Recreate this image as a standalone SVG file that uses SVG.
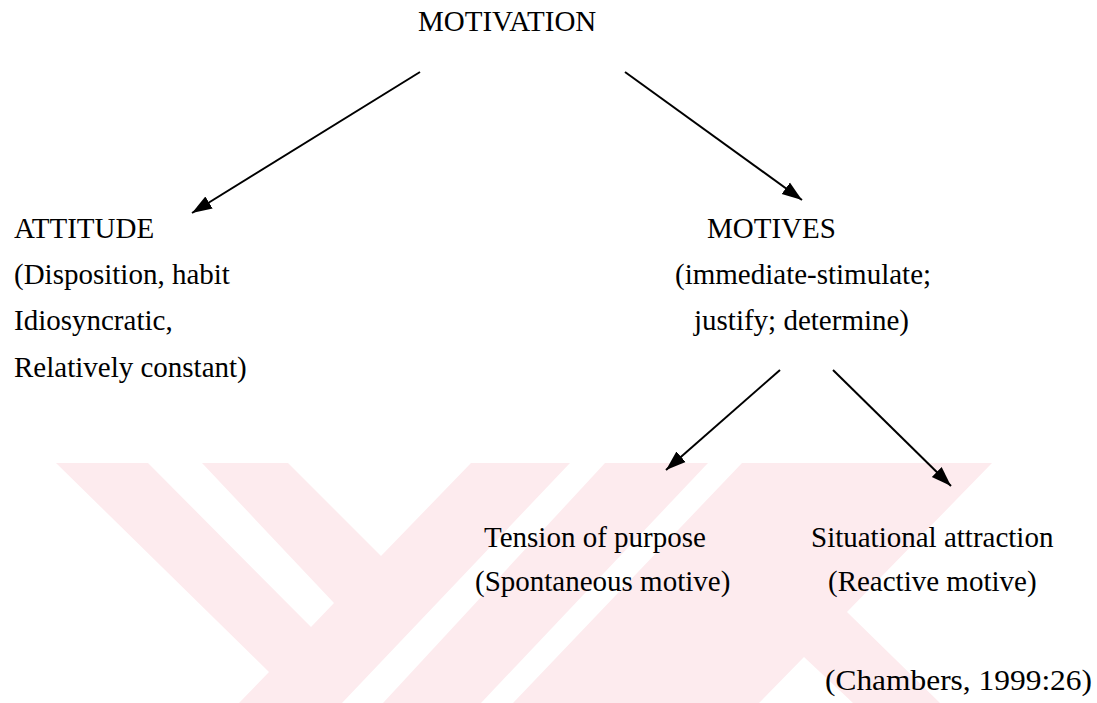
<svg xmlns="http://www.w3.org/2000/svg" width="1097" height="703" viewBox="0 0 1097 703">
<style>
  text { font-family: "Liberation Serif", "Times New Roman", serif; font-size: 29px; fill: #000; }
  .wm { fill: #fdebee; stroke: none; }
  .edge { stroke: #000; stroke-width: 2; fill: none; marker-end: url(#arrow); }
</style>
<defs>
  <marker id="arrow" markerUnits="userSpaceOnUse" markerWidth="22" markerHeight="16" viewBox="0 0 22 16" refX="20" refY="8" orient="auto">
    <path d="M0,1 L20,8 L0,15 Z" fill="#000"/>
  </marker>
</defs>
<rect width="1097" height="703" fill="#fff"/>
<g id="watermark">
  <polygon class="wm" points="56,463 148,463 311,627 334,603 202,463 288,463 381,556 471,463 570,463 342,703 239,703 269,672"/>
  <polygon class="wm" points="605,463 708,463 481,703 383,703"/>
  <polygon class="wm" points="742,463 992,463 847,612 940,703 853,703 804,657 759,703 513,703"/>
</g>
<g id="connectors">
  <path class="edge" d="M420,72 L192,213"/>
  <path class="edge" d="M625,72 L802,200"/>
  <path class="edge" d="M780,370 L666,470"/>
  <path class="edge" d="M833,370 L951,486"/>
</g>
<g id="motivation"><text x="418" y="31">MOTIVATION</text></g>
<g id="attitude">
  <text x="14" y="238">ATTITUDE</text>
  <text x="14" y="284">(Disposition, habit</text>
  <text x="14" y="330">Idiosyncratic,</text>
  <text x="14" y="377">Relatively constant)</text>
</g>
<g id="motives">
  <text x="707" y="238">MOTIVES</text>
  <text x="675" y="284">(immediate-stimulate;</text>
  <text x="694" y="330">justify; determine)</text>
</g>
<g id="tension">
  <text x="484" y="547">Tension of purpose</text>
  <text x="475" y="591">(Spontaneous motive)</text>
</g>
<g id="situational">
  <text x="811" y="547">Situational attraction</text>
  <text x="828" y="591">(Reactive motive)</text>
</g>
<g id="source"><text x="825" y="690" textLength="267" lengthAdjust="spacingAndGlyphs">(Chambers, 1999:26)</text></g>
</svg>
